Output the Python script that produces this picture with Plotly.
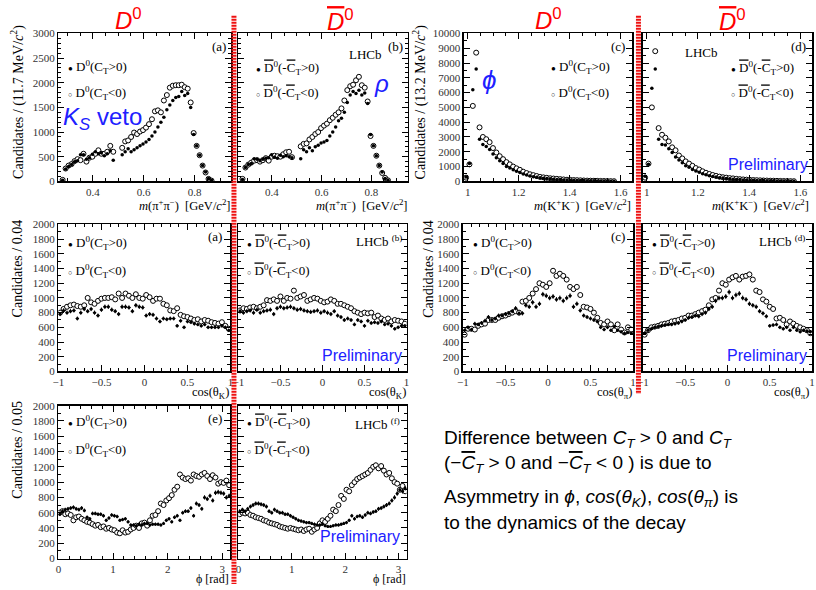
import math
import plotly.graph_objects as go

W, H = 816, 590

# ---------------- data ----------------
# m(pi+pi-) : bins of 11.7 MeV
MPP_START, MPP_WIDTH, MPP_N = 0.2757, 0.0117, 51
mpp_x = [MPP_START + MPP_WIDTH * (i + 0.5) for i in range(MPP_N)]
mpp_d0_pos = [20, 250, 300, 340, 400, 420, 540, 540, 450, 480,
              550, 600, 560, 580, 520, 560, 620, 430, None, None,
              540, 600, 660, 600, 640, 680, 720, 760, 800, 850,
              920, 1000, 1100, 1200, 1300, 1450, 1550, 1640, 1700, 1720,
              1820, 1740, 1780, 1500, 950, 720, 530, 320, 190, 60,
              20]
mpp_d0_neg = [30, 260, 320, 350, 410, 450, 430, 560, 400, 480,
              500, 560, 630, 560, 560, 600, 720, 600, None, None,
              680, 810, 830, 900, 990, 960, 1010, 1040, 1090, 1160,
              1260, 1420, 1440, 1400, 1640, 1750, 1900, 1940, 1950, 1950,
              1960, 1910, 1880, 1600, 980, 720, 530, 320, 180, 50,
              15]
mpp_d0bar_pos = [40, 280, 340, 360, 460, 450, 420, 450, 470, 480,
                 540, 490, 470, 530, 500, 520, 500, 480, None, None,
                 460, 640, 600, 680, 620, 700, 730, 780, 800, 830,
                 920, 1000, 1100, 1230, 1280, 1400, 1600, 1750, 1820, 1780,
                 1850, 1750, 1790, 1580, 950, 720, 520, 320, 190, 60,
                 20]
mpp_d0bar_neg = [50, 280, 340, 380, 420, 430, 400, 430, 470, 420,
                 500, 520, 510, 500, 550, 590, 600, 490, None, None,
                 710, 760, 770, 850, 900, 960, 1000, 1080, 1130, 1170,
                 1240, 1290, 1350, 1400, 1480, 1640, 1850, 1930, 1960, 2050,
                 2120, 1950, 1900, 1620, 920, 720, 520, 320, 170, 70,
                 20]

# m(K+K-) : bins of 13.2 MeV
MKK_START, MKK_WIDTH, MKK_N = 0.987, 0.0132, 45
mkk_x = [MKK_START + MKK_WIDTH * (i + 0.5) for i in range(MKK_N)]
mkk_d0_pos = [300, 1200, 6200, 7600, 2850, 2500, 2350, 2150, 1850, 1600,
              1400, 1200, 1000, 900, 780, 680, 600, 500, 430, 370,
              320, 280, 240, 210, 190, 170, 150, 130, 120, 100,
              90, 80, 70, 60, 55, 50, 45, 40, 35, 30,
              25, 20, 20, 15, 10]
mkk_d0_neg = [250, 1150, 5100, 8700, 3650, 3000, 2850, 2650, 2250, 1950,
              1700, 1500, 1300, 1150, 1000, 880, 780, 650, 560, 480,
              420, 360, 300, 270, 240, 210, 190, 170, 150, 130,
              110, 100, 90, 80, 70, 60, 50, 45, 40, 35,
              30, 25, 20, 15, 10]
mkk_d0bar_pos = [350, 1150, 6300, 7600, 2850, 2500, 2450, 2200, 1950, 1650,
                 1450, 1250, 1050, 950, 800, 700, 620, 520, 450, 380,
                 330, 290, 250, 220, 190, 170, 150, 130, 120, 100,
                 90, 80, 70, 60, 55, 50, 45, 40, 35, 30,
                 25, 20, 20, 15, 10]
mkk_d0bar_neg = [250, 1200, 5000, 8800, 3600, 3150, 2950, 2700, 2300, 2100,
                 1750, 1550, 1350, 1200, 1050, 900, 800, 680, 580, 500,
                 430, 370, 320, 280, 250, 220, 200, 170, 150, 130,
                 115, 100, 90, 80, 70, 60, 55, 45, 40, 35,
                 30, 25, 20, 15, 10]

# cos(theta) : bins of 0.04
COS_START, COS_WIDTH, COS_N = -1.0, 0.04, 50
cos_x = [COS_START + COS_WIDTH * (i + 0.5) for i in range(COS_N)]
cosk_d0_pos = [780, 830, 800, 820, 830, 720, 800, 850, 820, 850,
               800, 760, 840, 880, 880, 840, 820, 780, 880, 880,
               870, 820, 900, 880, 870, 760, 780, 770, 720, 680,
               720, 710, 720, 720, 620, 690, 600, 680, 670, 650,
               640, 620, 640, 600, 600, 600, 600, 620, 600, 560]
cosk_d0_neg = [800, 850, 880, 900, 910, 890, 880, 900, 1000, 940,
               920, 960, 990, 1000, 1000, 1010, 980, 1060, 1000, 1060,
               1030, 1000, 1050, 1000, 990, 1040, 1010, 960, 990, 990,
               920, 900, 830, 820, 860, 770, 750, 740, 720, 700,
               710, 680, 700, 690, 670, 660, 650, 670, 620, 580]
cosk_d0bar_pos = [820, 800, 820, 830, 800, 840, 800, 820, 830, 840,
                  780, 860, 880, 860, 870, 880, 860, 840, 850, 830,
                  820, 810, 820, 830, 800, 820, 800, 780, 820, 760,
                  740, 700, 720, 700, 640, 700, 680, 620, 690, 660,
                  670, 660, 680, 640, 650, 620, 580, 600, 620, 620]
cosk_d0bar_neg = [830, 860, 850, 870, 880, 860, 880, 900, 970, 960,
                  980, 960, 1020, 960, 1000, 990, 1100, 1000, 1020, 1040,
                  960, 980, 1000, 990, 960, 940, 950, 980, 960, 920,
                  920, 900, 880, 860, 820, 800, 780, 800, 790, 800,
                  740, 760, 720, 700, 720, 680, 700, 690, 680, 650]
cospi_d0_pos = [560, 600, 570, 650, 640, 660, 690, 740, 700, 720,
                760, 760, 780, 790, 820, 860, 790, 790, 900, 880,
                940, 880, 920, 1050, 1030, 1000, 1020, 980, 1000, 960,
                1000, 1030, 880, 920, 830, 760, 740, 720, 700, 680,
                600, 570, 600, 560, 610, 560, 540, 520, 530, 520]
cospi_d0_neg = [500, 580, 580, 570, 620, 640, 650, 700, 700, 700,
                730, 750, 760, 780, 800, 820, 800, 950, 960, 1000,
                1060, 1120, 1200, 1180, 1150, 1200, 1370, 1300, 1330, 1300,
                1250, 1150, 1120, 1150, 1040, 880, 870, 850, 800, 730,
                660, 640, 680, 640, 560, 640, 570, 530, 600, 570]
cospi_d0bar_pos = [520, 560, 580, 600, 610, 620, 630, 640, 640, 650,
                   660, 680, 700, 730, 740, 760, 750, 780, 800, 850,
                   880, 960, 1000, 1000, 1020, 1080, 1000, 1040, 1060, 1000,
                   980, 920, 900, 880, 820, 790, 750, 620, 630, 640,
                   600, 580, 600, 560, 600, 560, 540, 560, 550, 540]
cospi_d0bar_neg = [500, 560, 600, 610, 620, 640, 650, 660, 680, 690,
                   700, 720, 730, 760, 760, 780, 800, 820, 840, 900,
                   980, 1000, 1100, 1200, 1180, 1250, 1280, 1300, 1250, 1290,
                   1300, 1320, 1250, 1100, 1080, 980, 950, 880, 850, 720,
                   730, 700, 640, 680, 650, 620, 600, 580, 560, 520]

# phi : bins of 0.05 rad
PHI_START, PHI_WIDTH, PHI_N = 0.0, 0.05, 63
phi_x = [PHI_START + PHI_WIDTH * (i + 0.5) for i in range(PHI_N)]
phi_d0_pos = [580, 620, 640, 650, 660, 670, 650, 640, 660, 630,
              540, 520, 590, 590, 580, 580, 560, 500, 530, 570,
              560, 550, 500, 510, 520, 480, 440, 440, 430, 450,
              440, 460, 460, 440, 450, 450, 450, 440, 460, 500,
              520, 480, 540, 560, 500, 600, 620, 620, 660, 560,
              720, 700, 650, 800, 780, 820, 760, 860, 870, 860,
              850, 800, 820]
phi_d0_neg = [600, 620, 580, 590, 570, 500, 540, 550, 520, 500,
              480, 470, 450, 430, 440, 410, 420, 390, 400, 380,
              370, 340, 330, 370, 340, 350, 380, 400, 430, 400,
              460, 470, 430, 500, 560, 570, 620, 720, 700, 760,
              790, 830, 900, 940, 1100, 1060, 1040, 1050, 1020, 1100,
              1080, 1070, 1100, 1120, 1080, 1040, 1090, 1060, 980, 1000,
              990, 1020, 960]
phi_d0bar_pos = [620, 640, 620, 650, 680, 700, 720, 720, 710, 700,
                 680, 620, 600, 640, 620, 600, 600, 580, 580, 560,
                 540, 520, 500, 490, 480, 470, 470, 460, 450, 440,
                 440, 450, 430, 420, 420, 430, 440, 440, 450, 460,
                 470, 500, 560, 520, 550, 560, 540, 570, 600, 590,
                 610, 620, 650, 660, 680, 700, 720, 760, 800, 850,
                 900, 880, 920]
phi_d0bar_neg = [580, 600, 590, 600, 570, 560, 540, 530, 520, 500,
                 490, 470, 460, 450, 440, 420, 410, 400, 390, 400,
                 390, 380, 370, 380, 360, 380, 390, 350, 380, 400,
                 460, 500, 480, 520, 560, 640, 620, 700, 820, 780,
                 900, 880, 960, 1000, 1040, 1060, 1080, 1100, 1120, 1160,
                 1200, 1220, 1180, 1210, 1150, 1100, 1120, 1050, 1000, 980,
                 900, 950, 880]

# ---------------- layout helpers ----------------
SERIF = "Liberation Serif"
SANS = "Liberation Sans"
RED = "#ff0000"
BLUE = "#2020ff"


def X(px):
    return px / W


def Y(py):
    return 1 - py / H


# panel boxes in pixels: (x0, x1, y0, y1)
boxes = [
    (53, 228, 28, 179), (235, 406, 28, 179),
    (463, 633, 28, 179), (644, 815, 28, 179),
    (53, 227, 223, 373), (235, 405, 223, 373),
    (462, 634, 223, 373), (644, 815, 223, 373),
    (53, 227, 408, 564), (235, 405, 408, 564),
]

fig = go.Figure()


def add_pair(idx, xs, ypos, yneg, errs, half_w):
    xa = "x" if idx == 1 else f"x{idx}"
    ya = "y" if idx == 1 else f"y{idx}"
    if errs:
        ex = dict(type="constant", value=half_w, thickness=1, width=0, color="black")
        ey_n = dict(type="data", array=[math.sqrt(v) if v else 0 for v in yneg],
                    thickness=1, width=0, color="black")
        ey_p = dict(type="data", array=[math.sqrt(v) if v else 0 for v in ypos],
                    thickness=1, width=0, color="black")
    else:
        ex = ey_n = ey_p = None
    fig.add_trace(go.Scatter(
        x=xs, y=yneg, mode="markers", xaxis=xa, yaxis=ya,
        marker=dict(symbol="circle", size=5, color="white",
                    line=dict(color="black", width=1)),
        error_x=ex, error_y=ey_n, showlegend=False))
    fig.add_trace(go.Scatter(
        x=xs, y=ypos, mode="markers", xaxis=xa, yaxis=ya,
        marker=dict(symbol="circle", size=3.5 if not errs else 3, color="black"),
        error_x=ex, error_y=ey_p, showlegend=False))


add_pair(1, mpp_x, mpp_d0_pos, mpp_d0_neg, False, 0)
add_pair(2, mpp_x, mpp_d0bar_pos, mpp_d0bar_neg, False, 0)
add_pair(3, mkk_x, mkk_d0_pos, mkk_d0_neg, False, 0)
add_pair(4, mkk_x, mkk_d0bar_pos, mkk_d0bar_neg, False, 0)
add_pair(5, cos_x, cosk_d0_pos, cosk_d0_neg, True, COS_WIDTH / 2)
add_pair(6, cos_x, cosk_d0bar_pos, cosk_d0bar_neg, True, COS_WIDTH / 2)
add_pair(7, cos_x, cospi_d0_pos, cospi_d0_neg, True, COS_WIDTH / 2)
add_pair(8, cos_x, cospi_d0bar_pos, cospi_d0bar_neg, True, COS_WIDTH / 2)
add_pair(9, phi_x, phi_d0_pos, phi_d0_neg, True, PHI_WIDTH / 2)
add_pair(10, phi_x, phi_d0bar_pos, phi_d0bar_neg, True, PHI_WIDTH / 2)

x_specs = {
    1: ([0.265, 0.945], 0.2, 0.05), 2: ([0.265, 0.945], 0.2, 0.05),
    3: ([0.985, 1.645], 0.2, 0.05), 4: ([0.985, 1.645], 0.2, 0.05),
    5: ([-1, 1], 0.5, 0.1), 6: ([-1, 1], 0.5, 0.1),
    7: ([-1, 1], 0.5, 0.1), 8: ([-1, 1], 0.5, 0.1),
    9: ([0, 3.15], 1, 0.2), 10: ([0, 3.15], 1, 0.2),
}
y_specs = {
    1: ([0, 3000], 500, 100), 2: ([0, 3000], 500, 100),
    3: ([0, 10000], 1000, 500), 4: ([0, 10000], 1000, 500),
}
for i in range(5, 11):
    y_specs[i] = ([0, 2000], 200, 100)

layout_axes = {}
for i, (x0, x1, y0, y1) in enumerate(boxes, start=1):
    xr, xd, xm = x_specs[i]
    yr, yd, ym = y_specs[i]
    common = dict(showline=True, linecolor="black", linewidth=1.5,
                  mirror="allticks", ticks="inside", ticklen=6, tickwidth=1,
                  tickcolor="black", showgrid=False, zeroline=False,
                  tickfont=dict(family=SERIF, size=11, color="#333"))
    xname = "xaxis" if i == 1 else f"xaxis{i}"
    yname = "yaxis" if i == 1 else f"yaxis{i}"
    layout_axes[xname] = dict(common, domain=[X(x0), X(x1)], range=xr,
                              anchor="y" if i == 1 else f"y{i}",
                              tick0=0, dtick=xd,
                              minor=dict(ticks="inside", ticklen=3, dtick=xm,
                                         tickcolor="black", showgrid=False))
    layout_axes[yname] = dict(common, domain=[Y(y1), Y(y0)], range=yr,
                              anchor="x" if i == 1 else f"x{i}",
                              tick0=0, dtick=yd, tickformat="d",
                              showticklabels=(i % 2 == 1),
                              minor=dict(ticks="inside", ticklen=3, dtick=ym,
                                         tickcolor="black", showgrid=False))

annotations = []


def ann(text, px, py, size=13, color="black", family=SERIF,
        xanchor="left", yanchor="middle", angle=0):
    annotations.append(dict(text=text, x=X(px), y=Y(py), xref="paper", yref="paper",
                            showarrow=False, xanchor=xanchor, yanchor=yanchor,
                            textangle=angle,
                            font=dict(family=family, size=size, color=color)))


OV = "<span style='text-decoration:overline'>{}</span>"
DOT = "<span style='font-size:8px'>●</span>\u00a0"
CIRC = "<span style='font-size:7px'>○</span>\u00a0"
D0 = "D<sup>0</sup>"
D0B = OV.format("D") + "<sup>0</sup>"
LEG_D0 = [DOT + D0 + "(C<sub>T</sub>&gt;0)", CIRC + D0 + "(C<sub>T</sub>&lt;0)"]
LEG_D0B = [DOT + D0B + "(-" + OV.format("C") + "<sub>T</sub>&gt;0)",
           CIRC + D0B + "(-" + OV.format("C") + "<sub>T</sub>&lt;0)"]

# big red titles
ann("<i>D</i><sup>0</sup>", 124, 13, 24, RED, SANS, "center")
ann("<i>" + OV.format("D") + "</i><sup>0</sup>", 338, 14, 24, RED, SANS, "center")
ann("<i>D</i><sup>0</sup>", 549, 13, 24, RED, SANS, "center")
ann("<i>" + OV.format("D") + "</i><sup>0</sup>", 735, 14, 24, RED, SANS, "center")

# row 1
ann("(a)", 224, 41, 13, xanchor="right")
ann(LEG_D0[0], 61, 62)
ann(LEG_D0[1], 61, 89)
ann("<i>K<sub>S</sub></i> veto", 56, 115, 24, BLUE, SANS)
ann("LHCb", 345, 49)
ann("(b)", 403, 41, 13, xanchor="right")
ann(LEG_D0B[0], 251, 63)
ann(LEG_D0B[1], 251, 89)
ann("<i>ρ</i>", 380, 79, 24, BLUE, SANS, "center")
ann("(c)", 628, 41, 13, xanchor="right")
ann(LEG_D0[0], 549, 62)
ann(LEG_D0[1], 549, 89)
ann("<i>ϕ</i>", 488, 76, 26, BLUE, SANS, "center")
ann("LHCb", 685, 47)
ann("(d)", 811, 41, 13, xanchor="right")
ann(LEG_D0B[0], 731, 63)
ann(LEG_D0B[1], 731, 89)
ann("Preliminary", 813, 162, 16, BLUE, SANS, "right")

# row 2
ann("(a)", 220, 235, 13, xanchor="right")
ann(LEG_D0[0], 61, 242)
ann(LEG_D0[1], 61, 270)
ann("LHCb <sup>(b)</sup>", 402, 240, 13, xanchor="right")
ann(LEG_D0B[0], 242, 242)
ann(LEG_D0B[1], 242, 270)
ann("Preliminary", 402, 357, 16, BLUE, SANS, "right")
ann("(c)", 628, 235, 13, xanchor="right")
ann(LEG_D0[0], 470, 242)
ann(LEG_D0[1], 470, 270)
ann("LHCb <sup>(d)</sup>", 810, 240, 13, xanchor="right")
ann(LEG_D0B[0], 651, 242)
ann(LEG_D0B[1], 651, 270)
ann("Preliminary", 812, 357, 16, BLUE, SANS, "right")

# row 3
ann("(e)", 220, 421, 13, xanchor="right")
ann(LEG_D0[0], 61, 425)
ann(LEG_D0[1], 61, 453)
ann("LHCb <sup>(f)</sup>", 400, 427, 13, xanchor="right")
ann(LEG_D0B[0], 242, 425)
ann(LEG_D0B[1], 242, 453)
ann("Preliminary", 400, 542, 16, BLUE, SANS, "right")

# axis titles
MPP_T = "<i>m</i>(π<sup>+</sup>π<sup>−</sup>)\u00a0\u00a0[GeV/<i>c</i><sup>2</sup>]"
MKK_T = "<i>m</i>(K<sup>+</sup>K<sup>−</sup>)\u00a0\u00a0[GeV/<i>c</i><sup>2</sup>]"
ann(MPP_T, 229, 203, 12.5, xanchor="right")
ann(MPP_T, 407, 203, 12.5, xanchor="right")
ann(MKK_T, 634, 203, 12.5, xanchor="right")
ann(MKK_T, 814, 203, 12.5, xanchor="right")
ann("cos(θ<sub>K</sub>)", 228, 395, 12.5, xanchor="right")
ann("cos(θ<sub>K</sub>)", 406, 395, 12.5, xanchor="right")
ann("cos(θ<sub>π</sub>)", 635, 395, 12.5, xanchor="right")
ann("cos(θ<sub>π</sub>)", 814, 395, 12.5, xanchor="right")
ann("ϕ [rad]", 228, 585, 12, xanchor="right")
ann("ϕ [rad]", 406, 585, 12, xanchor="right")

ann("Candidates / (11.7 MeV/<i>c</i><sup>2</sup>)", 11, 98, 14, xanchor="center", angle=-90)
ann("Candidates / (13.2 MeV/<i>c</i><sup>2</sup>)", 418, 98, 14, xanchor="center", angle=-90)
ann("Candidates / 0.04", 12, 268, 14, xanchor="center", angle=-90)
ann("Candidates / 0.04", 427, 268, 14, xanchor="center", angle=-90)
ann("Candidates / 0.05", 12, 453, 14, xanchor="center", angle=-90)

# text block
CB = "<i>" + OV.format("C") + "<sub>T</sub></i>"
ann("Difference between <i>C<sub>T</sub></i> &gt; 0 and <i>C<sub>T</sub></i>", 441, 442, 19, "black", SANS)
ann("(−" + CB + " &gt; 0 and −" + CB + " &lt; 0 ) is due to", 441, 467, 19, "black", SANS)
ann("Asymmetry in <i>ϕ</i>, <i>cos</i>(<i>θ<sub>K</sub></i>), <i>cos</i>(<i>θ<sub>π</sub></i>) is", 441, 502, 19, "black", SANS)
ann("to the dynamics of the decay", 441, 527, 19, "black", SANS)

shapes = [
    dict(type="line", xref="paper", yref="paper", x0=X(230.5), x1=X(230.5),
         y0=Y(10), y1=0, line=dict(color="#ee1111", width=5, dash="2px,1px"),
         layer="above"),
    dict(type="line", xref="paper", yref="paper", x0=X(639.5), x1=X(639.5),
         y0=Y(10), y1=Y(396), line=dict(color="#ee1111", width=5, dash="2px,1px"),
         layer="above"),
]

fig.update_layout(
    width=W, height=H, margin=dict(l=0, r=0, t=0, b=0),
    paper_bgcolor="white", plot_bgcolor="white",
    showlegend=False, annotations=annotations, shapes=shapes,
    hovermode=False,
    **layout_axes,
)

fig.write_html("out.html", config={"displayModeBar": False, "staticPlot": True},
               post_script="document.body.style.margin='0px';document.body.style.overflow='hidden';")
